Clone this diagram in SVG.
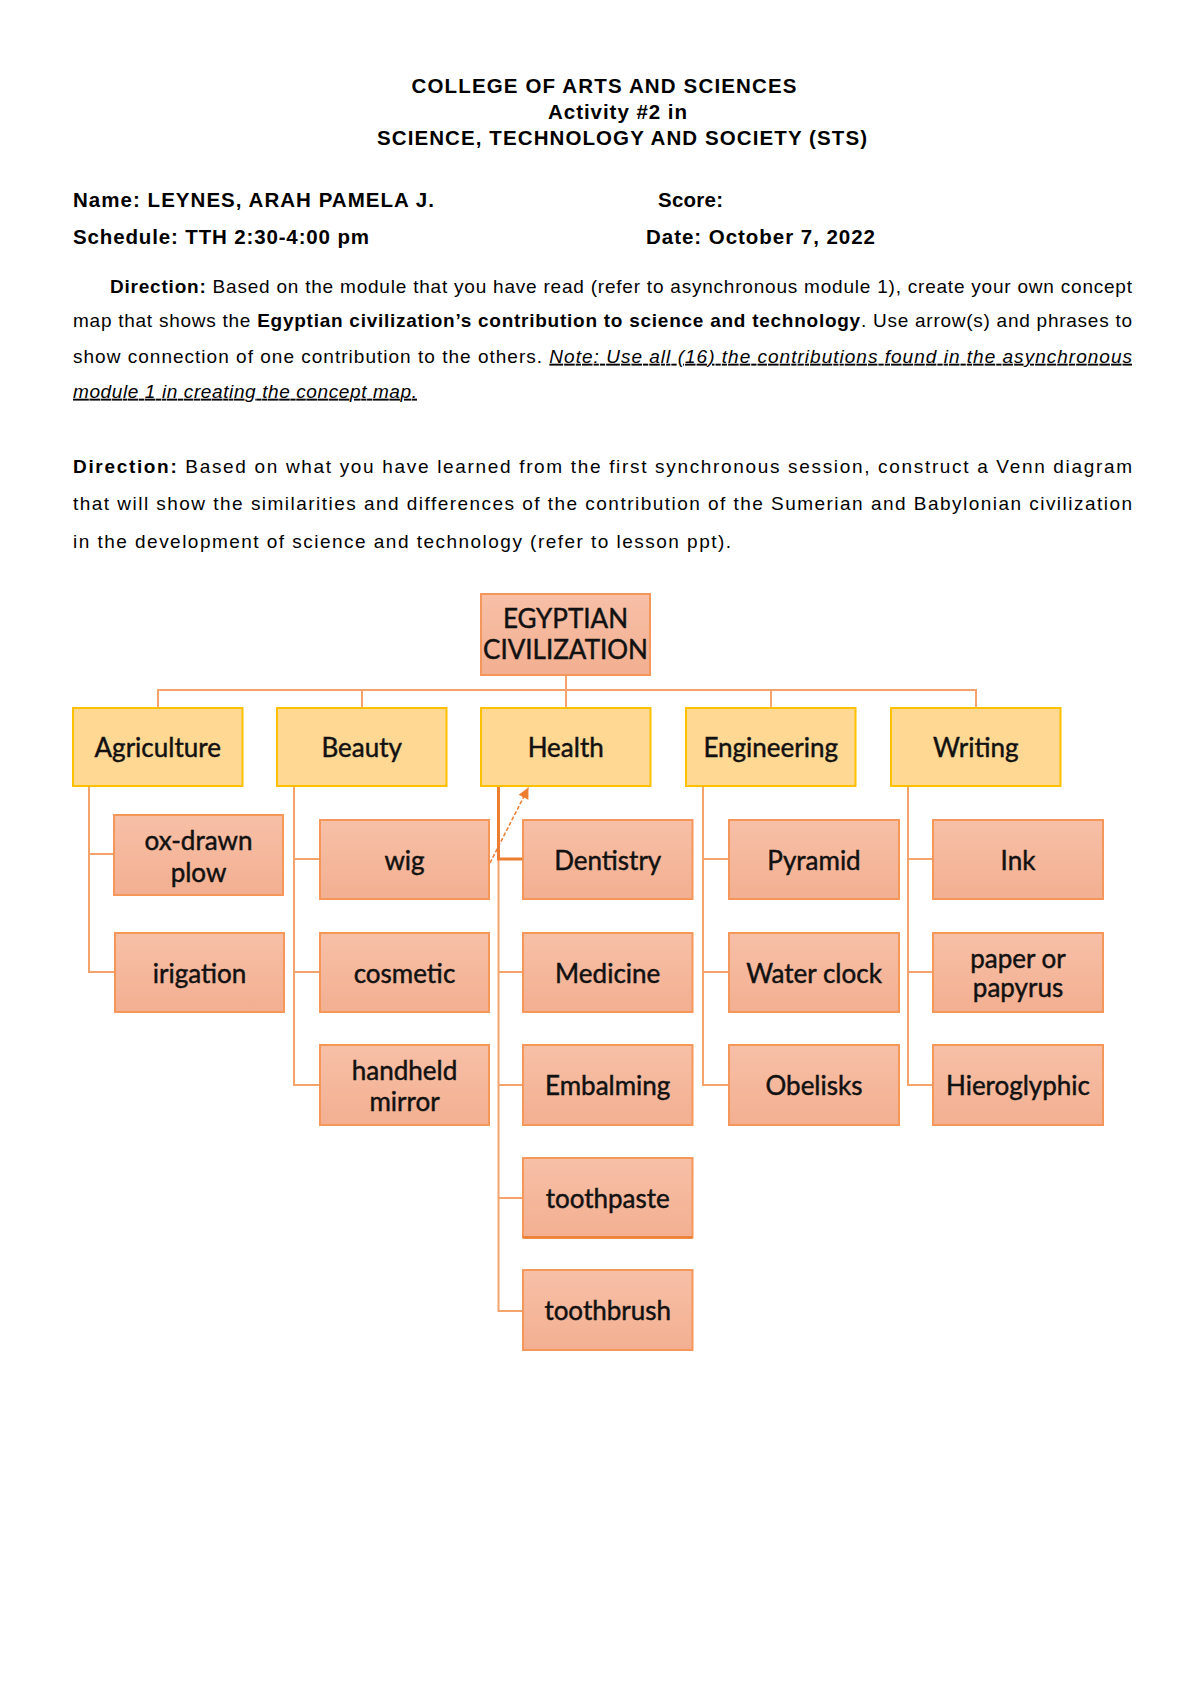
<svg xmlns="http://www.w3.org/2000/svg" width="1200" height="1698" viewBox="0 0 1200 1698">
<style>
.hd{font-family:"Liberation Sans",Arial,sans-serif;font-weight:bold;font-size:20.5px;fill:#000}
.p{font-family:"Liberation Sans",Arial,sans-serif;font-size:19px;fill:#000}
.b{font-weight:bold}
.n{font-style:italic;text-decoration:underline}
.lbl{font-family:Lato,"Open Sans",sans-serif;font-size:26px;fill:#111;stroke:#111;stroke-width:0.45;text-anchor:middle}
.tier{fill:#FFD893;stroke:#FFC000;stroke-width:2}
.leaf{fill:url(#sal);stroke:#F5965A;stroke-width:2}
.con{fill:none;stroke:#F5A36C;stroke-width:2}
</style>
<defs>
<linearGradient id="sal" x1="0" y1="0" x2="0" y2="1">
<stop offset="0" stop-color="#F7C0A7"/>
<stop offset="1" stop-color="#F3AF91"/>
</linearGradient>
<marker id="ah" viewBox="0 0 10 10" refX="10" refY="5" markerWidth="13" markerHeight="11" markerUnits="userSpaceOnUse" orient="auto">
<path d="M0,0 L10,5 L0,10 z" fill="#ED7D31"/>
</marker>
</defs>
<rect width="1200" height="1698" fill="#fff"/>

<g id="header">
<text class="hd" x="411.5" y="92.7" textLength="385" lengthAdjust="spacing">COLLEGE OF ARTS AND SCIENCES</text>
<text class="hd" x="548" y="119" textLength="139" lengthAdjust="spacing">Activity #2 in</text>
<text class="hd" x="377" y="145" textLength="490" lengthAdjust="spacing">SCIENCE, TECHNOLOGY AND SOCIETY (STS)</text>
<text class="hd" x="73" y="206.5" textLength="361" lengthAdjust="spacing">Name: LEYNES, ARAH PAMELA J.</text>
<text class="hd" x="658" y="206.5" textLength="65" lengthAdjust="spacing">Score:</text>
<text class="hd" x="73" y="244" textLength="296" lengthAdjust="spacing">Schedule: TTH 2:30-4:00 pm</text>
<text class="hd" x="646" y="244" textLength="229" lengthAdjust="spacing">Date: October 7, 2022</text>
</g>

<g id="directions">
<text class="p" x="110" y="292.7" textLength="1022" lengthAdjust="spacing"><tspan class="b">Direction:</tspan> Based on the module that you have read (refer to asynchronous module 1), create your own concept</text>
<text class="p" x="73" y="327.3" textLength="1059" lengthAdjust="spacing">map that shows the <tspan class="b">Egyptian civilization’s contribution to science and technology</tspan>. Use arrow(s) and phrases to</text>
<text class="p" x="73" y="362.7" textLength="1059" lengthAdjust="spacing">show connection of one contribution to the others. <tspan class="n">Note: Use all (16) the contributions found in the asynchronous</tspan></text>
<text class="p n" x="73" y="397.7" textLength="344" lengthAdjust="spacing">module 1 in creating the concept map.</text>
<text class="p" x="73" y="472.7" textLength="1059" lengthAdjust="spacing"><tspan class="b">Direction:</tspan> Based on what you have learned from the first synchronous session, construct a Venn diagram</text>
<text class="p" x="73" y="510" textLength="1059" lengthAdjust="spacing">that will show the similarities and differences of the contribution of the Sumerian and Babylonian civilization</text>
<text class="p" x="73" y="548" textLength="658" lengthAdjust="spacing">in the development of science and technology (refer to lesson ppt).</text>
</g>

<g id="connectors">
<path class="con" d="M566,675 V690 M158,708 V690 H976 V708 M362,690 V708 M566,690 V708 M771,690 V708"/>
<path class="con" d="M89,786 V972 H115 M89,854 H114"/>
<path class="con" d="M294,786 V1085 H320 M294,859 H320 M294,972 H320"/>
<path class="con" d="M498.5,859 V1311 H523 M498.5,972 H523 M498.5,1085 H523 M498.5,1198 H523"/>
<path class="con" d="M703,786 V1085 H729 M703,859 H729 M703,972 H729"/>
<path class="con" d="M908,786 V1085 H933 M908,859 H933 M908,972 H933"/>
<path d="M498.5,786 V859 H523" fill="none" stroke="#ED7D31" stroke-width="3"/>
<line x1="490" y1="863" x2="528.5" y2="787.5" stroke="#ED7D31" stroke-width="1.5" stroke-dasharray="4 2" marker-end="url(#ah)"/>
</g>

<g id="n-egypt"><rect class="leaf" x="481" y="594" width="169" height="81"/><text class="lbl" x="565.5" y="628.3">EGYPTIAN</text><text class="lbl" x="565.5" y="659">CIVILIZATION</text></g>

<g id="n-agriculture"><rect class="tier" x="73" y="708" width="169.5" height="78"/><text class="lbl" x="157.7" y="757.3">Agriculture</text></g>
<g id="n-beauty"><rect class="tier" x="277" y="708" width="169.5" height="78"/><text class="lbl" x="361.7" y="757.3">Beauty</text></g>
<g id="n-health"><rect class="tier" x="481" y="708" width="169.5" height="78"/><text class="lbl" x="565.7" y="757.3">Health</text></g>
<g id="n-engineering"><rect class="tier" x="686" y="708" width="169.5" height="78"/><text class="lbl" x="770.7" y="757.3">Engineering</text></g>
<g id="n-writing"><rect class="tier" x="891" y="708" width="169.5" height="78"/><text class="lbl" x="975.7" y="757.3">Writing</text></g>

<g id="n-oxplow"><rect class="leaf" x="114" y="815" width="169" height="80"/><text class="lbl" x="198.5" y="849.5">ox-drawn</text><text class="lbl" x="198.5" y="881.5">plow</text></g>
<g id="n-irigation"><rect class="leaf" x="115" y="933" width="169" height="79"/><text class="lbl" x="199.5" y="982.5">irigation</text></g>

<g id="n-wig"><rect class="leaf" x="320" y="820" width="169" height="79"/><text class="lbl" x="404.5" y="869.5">wig</text></g>
<g id="n-cosmetic"><rect class="leaf" x="320" y="933" width="169" height="79"/><text class="lbl" x="404.5" y="982.5">cosmetic</text></g>
<g id="n-mirror"><rect class="leaf" x="320" y="1045" width="169" height="80"/><text class="lbl" x="404.5" y="1080">handheld</text><text class="lbl" x="404.5" y="1110.5">mirror</text></g>

<g id="n-dentistry"><rect class="leaf" x="523" y="820" width="169.5" height="79"/><text class="lbl" x="607.7" y="869.5">Dentistry</text></g>
<g id="n-medicine"><rect class="leaf" x="523" y="933" width="169.5" height="79"/><text class="lbl" x="607.7" y="982.5">Medicine</text></g>
<g id="n-embalming"><rect class="leaf" x="523" y="1045" width="169.5" height="80"/><text class="lbl" x="607.7" y="1095">Embalming</text></g>
<g id="n-toothpaste"><rect class="leaf" x="523" y="1158" width="169.5" height="79.5"/><line x1="523" y1="1237.5" x2="692.5" y2="1237.5" stroke="#ED7D31" stroke-width="2.5"/><text class="lbl" x="607.7" y="1207.5">toothpaste</text></g>
<g id="n-toothbrush"><rect class="leaf" x="523" y="1270" width="169.5" height="80"/><text class="lbl" x="607.7" y="1320">toothbrush</text></g>

<g id="n-pyramid"><rect class="leaf" x="729" y="820" width="170" height="79"/><text class="lbl" x="814" y="869.5">Pyramid</text></g>
<g id="n-waterclock"><rect class="leaf" x="729" y="933" width="170" height="79"/><text class="lbl" x="814" y="982.5">Water clock</text></g>
<g id="n-obelisks"><rect class="leaf" x="729" y="1045" width="170" height="80"/><text class="lbl" x="814" y="1095">Obelisks</text></g>

<g id="n-ink"><rect class="leaf" x="933" y="820" width="170" height="79"/><text class="lbl" x="1018" y="869.5">Ink</text></g>
<g id="n-paper"><rect class="leaf" x="933" y="933" width="170" height="79"/><text class="lbl" x="1018" y="967.5">paper or</text><text class="lbl" x="1018" y="997">papyrus</text></g>
<g id="n-hieroglyphic"><rect class="leaf" x="933" y="1045" width="170" height="80"/><text class="lbl" x="1018" y="1095">Hieroglyphic</text></g>
</svg>
